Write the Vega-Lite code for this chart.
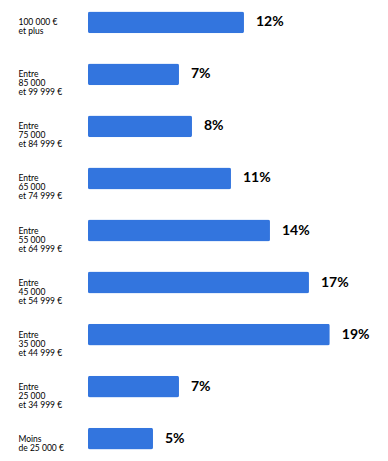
{
  "$schema": "https://vega.github.io/schema/vega-lite/v6.json",
  "autosize": {"type": "fit", "contains": "padding"},
  "width": 388,
  "height": 461,
  "padding": {"left": 18, "right": 0, "top": 0, "bottom": 0},
  "config": {"view": {"stroke": null}, "font": "Lato"},
  "data": {
    "values": [
      {"tranche": "100 000 €\net plus", "part": 12, "label": "12%"},
      {"tranche": "Entre\n85 000\net 99 999 €", "part": 7, "label": "7%"},
      {"tranche": "Entre\n75 000\net 84 999 €", "part": 8, "label": "8%"},
      {"tranche": "Entre\n65 000\net 74 999 €", "part": 11, "label": "11%"},
      {"tranche": "Entre\n55 000\net 64 999 €", "part": 14, "label": "14%"},
      {"tranche": "Entre\n45 000\net 54 999 €", "part": 17, "label": "17%"},
      {"tranche": "Entre\n35 000\net 44 999 €", "part": 18.6, "label": "19%"},
      {"tranche": "Entre\n25 000\net 34 999 €", "part": 7, "label": "7%"},
      {"tranche": "Moins\nde 25 000 €", "part": 5, "label": "5%"}
    ]
  },
  "encoding": {
    "y": {
      "field": "tranche",
      "type": "nominal",
      "sort": null,
      "scale": {"paddingInner": 0.58, "paddingOuter": 0.22},
      "axis": {
        "title": null,
        "domain": false,
        "ticks": false,
        "labelAlign": "left",
        "labelPadding": 70,
        "labelExpr": "split(datum.label, '\\n')",
        "labelFontSize": 8.5,
        "labelLineHeight": 9,
        "labelColor": "#000000",
        "labelFont": "Lato",
        "labelLimit": 100
      }
    },
    "x": {
      "field": "part",
      "type": "quantitative",
      "scale": {"domain": [0, 23.08], "nice": false},
      "axis": null
    }
  },
  "layer": [
    {
      "mark": {"type": "bar", "color": "#3375DE", "cornerRadius": 2}
    },
    {
      "mark": {"type": "text", "align": "left", "dx": 12, "fontSize": 14, "fontWeight": "bold", "color": "#000000", "font": "Lato"},
      "encoding": {"text": {"field": "label"}}
    }
  ]
}
